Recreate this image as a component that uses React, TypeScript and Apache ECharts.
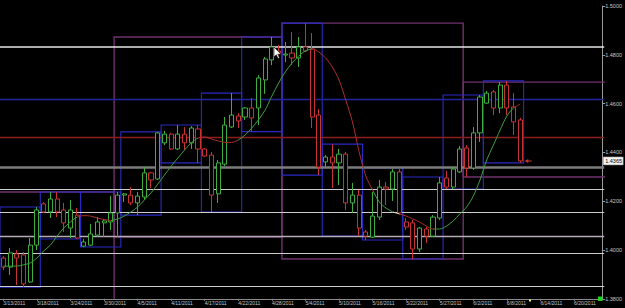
import React, { useEffect, useRef } from "react";
import * as echarts from "echarts";

// ---------- data ----------
const BAR_SLOTS = 90; // chart slots incl. empty right-side shift
const tickLabels = [
  "3/13/2011", "3/18/2011", "3/24/2011", "3/30/2011", "4/5/2011", "4/11/2011",
  "4/17/2011", "4/22/2011", "4/28/2011", "5/4/2011", "5/10/2011", "5/16/2011",
  "5/22/2011", "5/27/2011", "6/2/2011", "6/8/2011", "6/14/2011", "6/20/2011",
];

const opens = [
  1.3967, 1.3930, 1.3984, 1.3980, 1.3869, 1.4020, 1.4189, 1.4156, 1.4209, 1.4164,
  1.4090, 1.4143, 1.4016, 1.4020, 1.4061, 1.4111, 1.4115, 1.4152, 1.4225, 1.4225,
  1.4193, 1.4217, 1.4316, 1.4291, 1.4439, 1.4475, 1.4414, 1.4475, 1.4439, 1.4496,
  1.4414, 1.4389, 1.4230, 1.4352, 1.4504, 1.4549, 1.4545, 1.4582, 1.4582, 1.4697,
  1.4779, 1.4815, 1.4799, 1.4807, 1.4787, 1.4832, 1.4824, 1.4553, 1.4361, 1.4381,
  1.4357, 1.4393, 1.4193, 1.4225, 1.4074, 1.4053, 1.4135, 1.4258, 1.4250, 1.4320,
  1.4115, 1.4111, 1.4004, 1.4086, 1.4057, 1.4131, 1.4295, 1.4258, 1.4320, 1.4418,
  1.4336, 1.4480, 1.4602, 1.4648, 1.4582, 1.4676, 1.4586, 1.4533,
];
const closes = [
  1.3930, 1.3988, 1.3967, 1.3861, 1.4020, 1.4164, 1.4156, 1.4209, 1.4156, 1.4111,
  1.4164, 1.4049, 1.4033, 1.4066, 1.4115, 1.4119, 1.4152, 1.4225, 1.4230, 1.4193,
  1.4221, 1.4316, 1.4287, 1.4480, 1.4475, 1.4414, 1.4475, 1.4439, 1.4500, 1.4414,
  1.4385, 1.4225, 1.4357, 1.4512, 1.4553, 1.4529, 1.4582, 1.4541, 1.4705, 1.4783,
  1.4832, 1.4808, 1.4803, 1.4787, 1.4832, 1.4816, 1.4545, 1.4340, 1.4381, 1.4357,
  1.4393, 1.4193, 1.4225, 1.4090, 1.4057, 1.4139, 1.4258, 1.4250, 1.4320, 1.4152,
  1.4094, 1.4004, 1.4090, 1.4057, 1.4135, 1.4275, 1.4258, 1.4332, 1.4414, 1.4336,
  1.4480, 1.4627, 1.4643, 1.4582, 1.4676, 1.4582, 1.4525, 1.4365,
];
const highs = [
  1.3975, 1.4008, 1.4000, 1.3992, 1.4049, 1.4176, 1.4197, 1.4238, 1.4238, 1.4193,
  1.4205, 1.4172, 1.4045, 1.4107, 1.4135, 1.4127, 1.4221, 1.4238, 1.4234, 1.4258,
  1.4238, 1.4340, 1.4320, 1.4484, 1.4488, 1.4480, 1.4512, 1.4504, 1.4508, 1.4512,
  1.4418, 1.4402, 1.4369, 1.4545, 1.4643, 1.4561, 1.4586, 1.4623, 1.4717, 1.4791,
  1.4873, 1.4840, 1.4852, 1.4893, 1.4873, 1.4930, 1.4889, 1.4578, 1.4389, 1.4434,
  1.4414, 1.4402, 1.4275, 1.4246, 1.4082, 1.4238, 1.4287, 1.4279, 1.4332, 1.4336,
  1.4131, 1.4123, 1.4094, 1.4094, 1.4143, 1.4299, 1.4324, 1.4340, 1.4426, 1.4430,
  1.4504, 1.4635, 1.4652, 1.4656, 1.4689, 1.4693, 1.4643, 1.4541,
];
const lows = [
  1.3918, 1.3898, 1.3857, 1.3848, 1.3865, 1.4000, 1.4152, 1.4131, 1.4135, 1.4074,
  1.4049, 1.4045, 1.4012, 1.4016, 1.4053, 1.4053, 1.4082, 1.4053, 1.4197, 1.4184,
  1.4143, 1.4205, 1.4254, 1.4287, 1.4430, 1.4410, 1.4410, 1.4410, 1.4414, 1.4357,
  1.4381, 1.4156, 1.4193, 1.4344, 1.4500, 1.4500, 1.4533, 1.4485, 1.4512, 1.4640,
  1.4758, 1.4795, 1.4770, 1.4758, 1.4750, 1.4811, 1.4500, 1.4307, 1.4340, 1.4254,
  1.4266, 1.4164, 1.4152, 1.4057, 1.4041, 1.4049, 1.4123, 1.4184, 1.4201, 1.4143,
  1.4082, 1.3963, 1.3992, 1.4029, 1.4053, 1.4123, 1.4250, 1.4250, 1.4316, 1.4299,
  1.4328, 1.4443, 1.4598, 1.4553, 1.4561, 1.4553, 1.4471, 1.4357,
];

// smoothed moving average
const maValues = [
  1.3934, 1.3934, 1.3934, 1.3939, 1.3947, 1.3967, 1.3996, 1.4020, 1.4057, 1.4090,
  1.4115, 1.4135, 1.4141, 1.4139, 1.4131, 1.4125, 1.4121, 1.4127, 1.4139, 1.4156,
  1.4176, 1.4205, 1.4234, 1.4270, 1.4307, 1.4344, 1.4377, 1.4410, 1.4439, 1.4459,
  1.4463, 1.4455, 1.4447, 1.4441, 1.4441, 1.4451, 1.4471, 1.4500, 1.4533, 1.4574,
  1.4631, 1.4684, 1.4730, 1.4766, 1.4795, 1.4816, 1.4824, 1.4811, 1.4787, 1.4750,
  1.4697, 1.4615, 1.4525, 1.4402, 1.4303, 1.4246, 1.4197, 1.4172, 1.4156, 1.4148,
  1.4139, 1.4127, 1.4115, 1.4098, 1.4086, 1.4086, 1.4098, 1.4119, 1.4148, 1.4176,
  1.4221, 1.4287, 1.4369, 1.4430, 1.4492, 1.4549, 1.4582, 1.4598,
];
const maBreaks = [11, 16, 29, 35, 46, 55, 58, 59, 64, 76];
const maSegments = ["up", "down", "up", "down", "up", "down", "up", "flat", "down", "up", "down"];

// horizontal levels
const levelPrices = [1.4832, 1.4619, 1.4463, 1.4340, 1.4250, 1.4156, 1.4057, 1.3988, 1.3852];
const levelKinds = ["bright", "blue", "red", "gray", "white", "white", "pale", "white", "white"];

// monthly range boxes
const monthStart = [0, 17, 42, 69];
const monthEnd = [16, 41, 68, 77];
const monthHigh = [1.4238, 1.4873, 1.4930, 1.4688];
const monthLow = [1.3700, 1.4053, 1.3963, 1.4299];
const monthOpenLeft = [1, 0, 0, 0];
const monthOpenRight = [0, 0, 0, 1];

const BARS_PER_WEEK = 6;
const lastPrice = 1.4365;

// ---------- styles ----------
const UP = "#3fae3f";
const DOWN = "#c83434";
const MA_COLORS: Record<string, string> = { up: "#3d9d3d", down: "#ad2c2c", flat: "#d8d8b0" };
const LEVEL_STYLE: Record<string, { color: string; width: number }> = {
  bright: { color: "#e6e6e6", width: 1.6 },
  blue: { color: "#24249e", width: 1.3 },
  red: { color: "#8e1e1e", width: 1.3 },
  gray: { color: "#7c7c7c", width: 2.6 },
  white: { color: "#cdcdcd", width: 1.2 },
  pale: { color: "#b4acb4", width: 1.3 },
};
const FONT = "Liberation Sans";

function buildDates(): string[] {
  const out: string[] = [];
  const d = new Date(Date.UTC(2011, 2, 13));
  while (out.length < BAR_SLOTS) {
    if (d.getUTCDay() !== 6) {
      out.push(`${d.getUTCMonth() + 1}/${d.getUTCDate()}/${d.getUTCFullYear()}`);
    }
    d.setUTCDate(d.getUTCDate() + 1);
  }
  return out;
}

function buildWeekBoxes() {
  const boxes: number[][] = [];
  for (let s = 0; s < opens.length; s += BARS_PER_WEEK) {
    const e = Math.min(s + BARS_PER_WEEK - 1, opens.length - 1);
    let hi = -Infinity;
    let lo = Infinity;
    for (let i = s; i <= e; i++) {
      hi = Math.max(hi, highs[i]);
      lo = Math.min(lo, lows[i]);
    }
    boxes.push([s, e, hi, lo, 0, 0]);
  }
  return boxes;
}

function boxRenderer(stroke: string, lineWidth: number) {
  return (params: any, api: any) => {
    const s = api.value(0);
    const e = api.value(1);
    const hi = api.value(2);
    const lo = api.value(3);
    const openL = api.value(4);
    const openR = api.value(5);
    const cs = params.coordSys;
    const half = api.size([1, 0])[0] / 2;
    const pTop = api.coord([s, hi]);
    const pBot = api.coord([e, lo]);
    let x1 = pTop[0] - half;
    let x2 = pBot[0] + half;
    if (openL) x1 = cs.x - 6;
    if (openR) x2 = cs.x + cs.width + 6;
    return {
      type: "rect",
      shape: { x: x1, y: pTop[1], width: x2 - x1, height: pBot[1] - pTop[1] },
      style: { fill: "none", stroke, lineWidth },
    };
  };
}

function buildOption() {
  const dates = buildDates();
  const candles = opens.map((o, i) => [o, closes[i], lows[i], highs[i]]);
  const weekBoxes = buildWeekBoxes();
  const monthBoxes = monthStart.map((s, i) => [
    s, monthEnd[i], monthHigh[i], monthLow[i], monthOpenLeft[i], monthOpenRight[i],
  ]);

  const pieces: any[] = [];
  maSegments.forEach((k, i) => {
    const p: any = { color: MA_COLORS[k] };
    if (i > 0) p.gte = maBreaks[i - 1];
    if (i < maBreaks.length) p.lt = maBreaks[i];
    pieces.push(p);
  });

  const levelLines: any[] = levelPrices.map((p, i) => ({
    yAxis: p,
    lineStyle: {
      color: LEVEL_STYLE[levelKinds[i]].color,
      width: LEVEL_STYLE[levelKinds[i]].width,
      type: "solid",
    },
    label: { show: false },
  }));

  return {
    animation: false,
    backgroundColor: "#000",
    grid: { left: -0.6, right: 20, top: 6, bottom: 9.2, containLabel: false },
    xAxis: {
      type: "category",
      data: dates,
      boundaryGap: true,
      axisLine: { show: true, lineStyle: { color: "#8a8a8a", width: 1 } },
      axisTick: { show: true, interval: 4, alignWithLabel: true, length: 2, lineStyle: { color: "#8a8a8a" } },
      axisLabel: {
        interval: 4,
        align: "left",
        margin: 2,
        fontSize: 5,
        color: "#c4c4c4",
        fontFamily: FONT,
        formatter: (_v: string, idx: number) => tickLabels[idx / 5] ?? "",
      },
      splitLine: { show: false },
    },
    yAxis: {
      type: "value",
      position: "right",
      offset: -2,
      min: 1.38,
      max: 1.5,
      interval: 0.02,
      axisLine: { show: true, lineStyle: { color: "#9a9a9a", width: 1 } },
      axisTick: { show: true, length: 3, lineStyle: { color: "#9a9a9a" } },
      axisLabel: {
        margin: 3,
        fontSize: 5.5,
        color: "#c8c8c8",
        fontFamily: FONT,
        formatter: (v: number) => v.toFixed(4),
      },
      splitLine: { show: false },
    },
    visualMap: {
      show: false,
      type: "piecewise",
      seriesIndex: 4,
      dimension: 0,
      pieces,
    },
    series: [
      {
        type: "custom",
        name: "month",
        z: 2,
        clip: true,
        silent: true,
        encode: { x: [0, 1], y: [2, 3] },
        data: monthBoxes,
        renderItem: boxRenderer("#70306f", 1.4),
      },
      {
        type: "custom",
        name: "week",
        z: 2,
        clip: true,
        silent: true,
        encode: { x: [0, 1], y: [2, 3] },
        data: weekBoxes,
        renderItem: boxRenderer("#2a2ac2", 1.1),
      },
      {
        type: "line",
        name: "levels",
        data: [],
        z: 3,
        silent: true,
        markLine: {
          z: 3,
          silent: true,
          symbol: "none",
          precision: 4,
          animation: false,
          data: levelLines,
        },
      },
      {
        type: "candlestick",
        name: "price",
        z: 5,
        barWidth: 4.6,
        data: candles,
        itemStyle: {
          color: "#000",
          color0: "#000",
          borderColor: UP,
          borderColor0: DOWN,
          borderColorDoji: UP,
          borderWidth: 1,
        },
        markPoint: {
          silent: true,
          animation: false,
          label: { show: false },
          data: [
            {
              coord: [opens.length - 1, lastPrice],
              symbol: "path://M0,4 L6,0 L6,3 L12,3 L12,5 L6,5 L6,8 Z",
              symbolSize: [7, 4],
              symbolOffset: [8, 0],
              itemStyle: { color: DOWN },
            },
          ],
        },
      },
      {
        type: "line",
        name: "ma",
        z: 6,
        data: maValues,
        showSymbol: false,
        smooth: 0.3,
        silent: true,
        lineStyle: { width: 1 },
      },
    ],
    graphic: [
      {
        type: "polygon",
        z: 100,
        x: 274,
        y: 47,
        shape: {
          points: [[0, 0], [0, 10], [2.3, 7.8], [4, 11.5], [5.5, 10.9], [3.8, 7.2], [7, 7.2]],
        },
        style: { fill: "#ffffff", stroke: "#000", lineWidth: 0.6 },
      },
      { type: "rect", z: 100, shape: { x: 598, y: 296.5, width: 4.5, height: 4.5 }, style: { fill: "#1fd21f" } },
      { type: "rect", z: 100, shape: { x: 529, y: 299.5, width: 2, height: 2 }, style: { fill: "#f2f270" } },
    ],
  };
}

export default function App() {
  const ref = useRef<HTMLDivElement>(null);
  useEffect(() => {
    if (!ref.current) return;
    const chart = echarts.init(ref.current, null, { renderer: "svg" });
    const option: any = buildOption();
    chart.setOption(option);
    // price tag on the right axis, placed through the y scale
    const py = chart.convertToPixel({ yAxisIndex: 0 }, lastPrice) as number;
    const axisX = chart.convertToPixel({ xAxisIndex: 0 }, BAR_SLOTS - 1) as number;
    const halfBand = 605.6 / BAR_SLOTS / 2;
    chart.setOption({
      graphic: [
        ...option.graphic,
        {
          type: "rect",
          z: 101,
          shape: { x: axisX + halfBand - 1, y: py - 4, width: 20, height: 8 },
          style: { fill: "#f4f4f4", stroke: "#9a9a9a", lineWidth: 0.5 },
        },
        {
          type: "text",
          z: 102,
          x: axisX + halfBand + 1,
          y: py,
          style: {
            text: lastPrice.toFixed(4),
            fill: "#000",
            font: `5.5px ${FONT}`,
            align: "left",
            verticalAlign: "middle",
          },
        },
      ],
    });
    return () => chart.dispose();
  }, []);
  return (
    <div
      ref={ref}
      style={{ position: "fixed", left: 0, top: 0, width: 625, height: 308, background: "#000" }}
    />
  );
}
